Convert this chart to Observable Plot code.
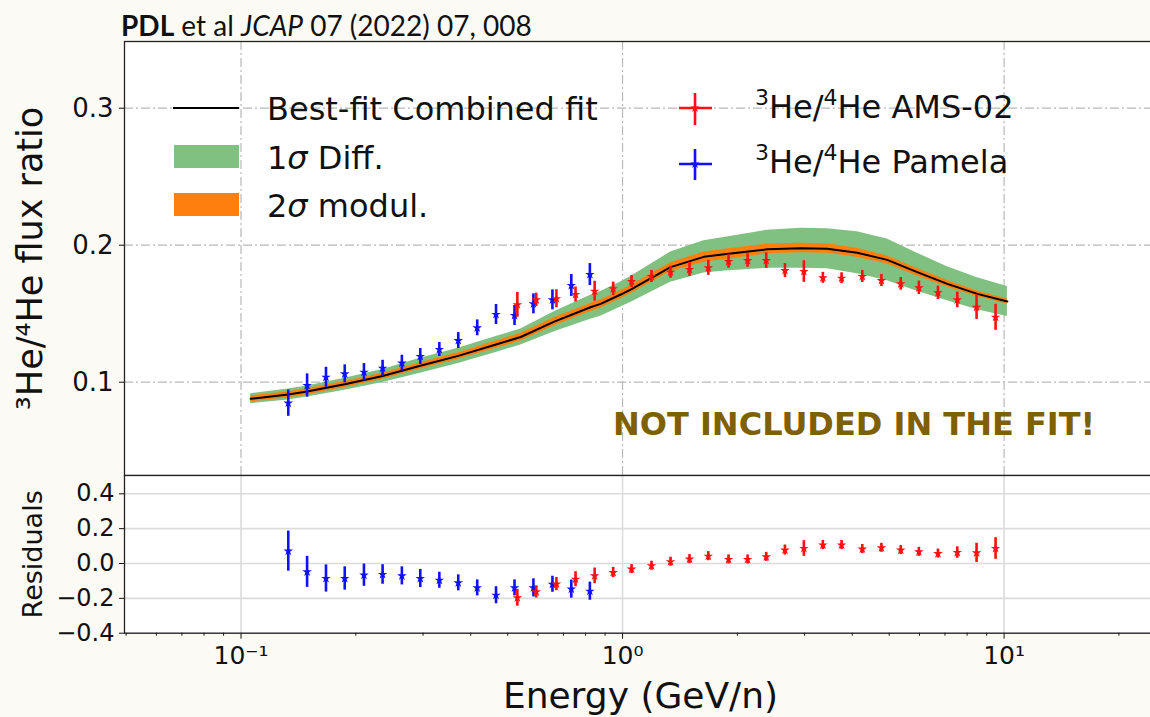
<!DOCTYPE html>
<html>
<head>
<meta charset="utf-8">
<script src="https://cdn.jsdelivr.net/npm/d3@7"></script>
<script src="https://cdn.jsdelivr.net/npm/@observablehq/plot@0.6"></script>
<style>
  html, body { margin: 0; padding: 0; width: 1150px; height: 717px; overflow: hidden; background: #fcfaf4; }
  #wrap { position: relative; width: 1150px; height: 717px; }
  #main, #resid, #overlay { position: absolute; left: 0; }
  #main { top: 0; }
  #resid { top: 475px; }
  #overlay { top: 0; pointer-events: none; }
</style>
</head>
<body>
<div id="wrap">
  <div id="main"></div>
  <div id="resid"></div>
  <svg id="overlay" width="1150" height="717"></svg>
</div>
<script>
// ---- PAMELA 3He/4He (kinetic energy per nucleon, GeV/n) ----
const pamelaE = [0.133, 0.149, 0.167, 0.187, 0.210, 0.235, 0.264, 0.295, 0.331, 0.371, 0.416, 0.466, 0.521, 0.584, 0.655, 0.734, 0.821];
const pamelaRatio = [0.0847, 0.0976, 0.1036, 0.1061, 0.1073, 0.1102, 0.1139, 0.1188, 0.1239, 0.1304, 0.1397, 0.1494, 0.1487, 0.1572, 0.1601, 0.1706, 0.1786];
const pamelaErr = [0.0096, 0.0085, 0.0073, 0.0066, 0.0063, 0.0058, 0.0058, 0.0058, 0.0051, 0.0058, 0.0058, 0.0073, 0.0073, 0.0073, 0.0073, 0.0080, 0.0080];
const pamelaRes = [0.071, -0.048, -0.086, -0.086, -0.067, -0.063, -0.071, -0.086, -0.096, -0.111, -0.140, -0.182, -0.140, -0.140, -0.119, -0.147, -0.159];
const pamelaResErr = [0.115, 0.089, 0.078, 0.067, 0.064, 0.056, 0.052, 0.052, 0.046, 0.046, 0.046, 0.049, 0.046, 0.052, 0.046, 0.052, 0.052];

// ---- AMS-02 3He/4He ----
const amsE = [0.530, 0.594, 0.671, 0.753, 0.845, 0.945, 1.056, 1.191, 1.336, 1.498, 1.678, 1.896, 2.127, 2.380, 2.665, 2.987, 3.35, 3.75, 4.25, 4.77, 5.36, 5.98, 6.71, 7.54, 8.47, 9.50];
const amsRatio = [0.1565, 0.1601, 0.1609, 0.1640, 0.1664, 0.1682, 0.1735, 0.1772, 0.1803, 0.1823, 0.1835, 0.1881, 0.1888, 0.1888, 0.1815, 0.1808, 0.1762, 0.1759, 0.1772, 0.1742, 0.1718, 0.1689, 0.1653, 0.1601, 0.1547, 0.1474];
const amsErr = [0.0091, 0.0049, 0.0066, 0.0055, 0.0073, 0.0049, 0.0044, 0.0044, 0.0044, 0.0051, 0.0055, 0.0049, 0.0049, 0.0057, 0.0051, 0.0079, 0.0040, 0.0040, 0.0044, 0.0044, 0.0046, 0.0049, 0.0049, 0.0057, 0.0089, 0.0095];
const amsRes = [-0.197, -0.163, -0.118, -0.090, -0.071, -0.052, -0.032, -0.013, 0.010, 0.025, 0.042, 0.023, 0.023, 0.038, 0.077, 0.086, 0.106, 0.106, 0.083, 0.090, 0.077, 0.067, 0.057, 0.063, 0.061, 0.086];
const amsResErr = [0.048, 0.035, 0.038, 0.043, 0.045, 0.029, 0.026, 0.026, 0.026, 0.026, 0.026, 0.026, 0.026, 0.026, 0.029, 0.045, 0.026, 0.026, 0.026, 0.026, 0.026, 0.026, 0.026, 0.033, 0.055, 0.062];

// ---- Best-fit combined model and its uncertainty bands ----
const modelE = [0.106, 0.133, 0.149, 0.187, 0.235, 0.295, 0.371, 0.466, 0.541, 0.660, 0.824, 0.876, 0.989, 1.056, 1.336, 1.633, 1.896, 2.394, 2.93, 3.44, 4.12, 4.94, 5.92, 7.10, 8.51, 10.2];
const modelFit = [0.0879, 0.0910, 0.0932, 0.0985, 0.1045, 0.1120, 0.1192, 0.1275, 0.1330, 0.1440, 0.1547, 0.1572, 0.1640, 0.1680, 0.1840, 0.1915, 0.1937, 0.1970, 0.1978, 0.1974, 0.1945, 0.1893, 0.1803, 0.1718, 0.1645, 0.1589];
const diffLow = [0.0843, 0.0870, 0.0892, 0.0941, 0.0998, 0.1065, 0.1137, 0.1217, 0.1272, 0.1367, 0.1459, 0.1481, 0.1549, 0.1585, 0.1730, 0.1798, 0.1813, 0.1831, 0.1832, 0.1828, 0.1792, 0.1740, 0.1664, 0.1594, 0.1528, 0.1479];
const diffHigh = [0.0915, 0.0950, 0.0972, 0.1029, 0.1092, 0.1175, 0.1247, 0.1333, 0.1388, 0.1513, 0.1635, 0.1663, 0.1731, 0.1775, 0.1950, 0.2032, 0.2061, 0.2109, 0.2124, 0.2120, 0.2098, 0.2046, 0.1942, 0.1842, 0.1762, 0.1699];
const modulLow = [0.0856, 0.0887, 0.0909, 0.0962, 0.1021, 0.1096, 0.1167, 0.1247, 0.1300, 0.1410, 0.1517, 0.1542, 0.1610, 0.1650, 0.1808, 0.1875, 0.1900, 0.1937, 0.1945, 0.1942, 0.1912, 0.1862, 0.1775, 0.1694, 0.1624, 0.1570];
const modulHigh = [0.0899, 0.0930, 0.0952, 0.1005, 0.1066, 0.1142, 0.1215, 0.1300, 0.1357, 0.1468, 0.1575, 0.1600, 0.1668, 0.1710, 0.1872, 0.1950, 0.1975, 0.2008, 0.2015, 0.2010, 0.1978, 0.1922, 0.1830, 0.1742, 0.1666, 0.1608];

// ---- Axis ticks ----
const xMajor = [0.1, 1, 10];
const xMajorLabels = ["10⁻¹", "10⁰", "10¹"];
const yMainTicks = [0.1, 0.2, 0.3];
const yResTicks = [-0.4, -0.2, 0.0, 0.2, 0.4];
const xMinor = [];
for (const decade of [0.01, 0.1, 1, 10]) for (let k = 2; k <= 9; k++) xMinor.push(k * decade);

// ---- Tables built from the arrays ----
const pamela = pamelaE.map((E, i) => ({E, v: pamelaRatio[i], e: pamelaErr[i], r: pamelaRes[i], re: pamelaResErr[i]}));
const ams = amsE.map((E, i) => ({E, v: amsRatio[i], e: amsErr[i], r: amsRes[i], re: amsResErr[i]}));
const model = modelE.map((E, i) => ({E, fit: modelFit[i], gLo: diffLow[i], gHi: diffHigh[i], oLo: modulLow[i], oHi: modulHigh[i]}));

const xDomain = [0.0495, 29];
const font = "DejaVu Sans, Verdana, sans-serif";
const ink = "#111";
const svgStyle = {background: "transparent", maxWidth: "none", overflow: "visible", fontFamily: font, color: ink};
const starR = 3;
const green = "#80c080", orange = "#ff7f0e";
const red = "#ff1010", blue = "#1010ff";
const dashGrid = {stroke: "#b8b8b8", strokeOpacity: 1, strokeWidth: 1.2, strokeDasharray: "9,3,2,3"};
const solidGrid = {stroke: "#dcdcdc", strokeOpacity: 1, strokeWidth: 1.6};

// ---- Upper panel: flux ratio ----
const mainPlot = Plot.plot({
  width: 1180, height: 475,
  marginLeft: 124, marginRight: 0, marginTop: 41, marginBottom: 0,
  style: svgStyle,
  x: {type: "log", domain: xDomain, axis: null, label: null},
  y: {domain: [0.0319, 0.3487], label: null},
  marks: [
    Plot.frame({fill: "white"}),
    Plot.gridX(xMajor, dashGrid),
    Plot.gridY(yMainTicks, dashGrid),
    Plot.areaY(model, {x: "E", y1: "gLo", y2: "gHi", fill: green}),
    Plot.areaY(model, {x: "E", y1: "oLo", y2: "oHi", fill: orange}),
    Plot.line(model, {x: "E", y: "fit", stroke: "black", strokeWidth: 2}),
    Plot.ruleX(pamela, {x: "E", y1: d => d.v - d.e, y2: d => d.v + d.e, stroke: blue, strokeWidth: 2.6}),
    Plot.dot(pamela, {x: "E", y: "v", symbol: "star", r: starR, fill: blue}),
    Plot.ruleX(ams, {x: "E", y1: d => d.v - d.e, y2: d => d.v + d.e, stroke: red, strokeWidth: 2.6}),
    Plot.dot(ams, {x: "E", y: "v", symbol: "star", r: starR, fill: red}),
    Plot.axisY(yMainTicks, {tickSize: 5, tickPadding: 6, fontSize: 26, label: null, tickFormat: d => d.toFixed(1), stroke: ink, fill: ink}),
    Plot.text(["³He/⁴He flux ratio"], {frameAnchor: "left", textAnchor: "middle", lineAnchor: "middle", text: d => d, rotate: -90, dx: -94, fontSize: 35, fill: ink}),
    Plot.frame({stroke: "#222", strokeWidth: 1.3})
  ]
});
document.getElementById("main").appendChild(mainPlot);

// ---- Lower panel: residuals ----
const residPlot = Plot.plot({
  width: 1180, height: 242,
  marginLeft: 124, marginRight: 0, marginTop: 0, marginBottom: 84.3,
  style: svgStyle,
  x: {type: "log", domain: xDomain, label: null},
  y: {domain: [-0.4, 0.505], label: null},
  marks: [
    Plot.frame({fill: "white"}),
    Plot.gridY(yResTicks, solidGrid),
    Plot.gridX(xMajor, solidGrid),
    Plot.ruleX(pamela, {x: "E", y1: d => d.r - d.re, y2: d => d.r + d.re, stroke: blue, strokeWidth: 2.6}),
    Plot.dot(pamela, {x: "E", y: "r", symbol: "star", r: starR, fill: blue}),
    Plot.ruleX(ams, {x: "E", y1: d => d.r - d.re, y2: d => d.r + d.re, stroke: red, strokeWidth: 2.6}),
    Plot.dot(ams, {x: "E", y: "r", symbol: "star", r: starR, fill: red}),
    Plot.axisY(yResTicks, {tickSize: 5, tickPadding: 5, fontSize: 24, label: null, tickFormat: d3.format(".1f"), stroke: ink, fill: ink}),
    Plot.axisX(xMinor.filter(v => v > xDomain[0] && v < xDomain[1]), {tickSize: 3, label: null, fill: "none", stroke: ink}),
    Plot.axisX(xMajor, {tickSize: 6, tickPadding: 7, fontSize: 25, label: null, tickFormat: d => xMajorLabels[xMajor.indexOf(d)], stroke: ink, fill: ink}),
    Plot.text(["Residuals"], {frameAnchor: "left", textAnchor: "middle", lineAnchor: "middle", text: d => d, rotate: -90, dx: -91, fontSize: 27, fill: ink}),
    Plot.text(["Energy (GeV/n)"], {frameAnchor: "bottom", textAnchor: "middle", lineAnchor: "middle", text: d => d, dx: -12, dy: 63, fontSize: 36, fill: ink}),
    Plot.frame({stroke: "#222", strokeWidth: 1.3})
  ]
});
document.getElementById("resid").appendChild(residPlot);

// ---- Citation, legend and annotation ----
const star = d3.symbol(d3.symbolStar, 26)();
const sup = (s) => `<tspan font-size="22" dy="-13">${s}</tspan>`;
const heRatio = (rest) => `${sup("3")}<tspan dy="13">He/</tspan>${sup("4")}<tspan dy="13">He ${rest}</tspan>`;
document.getElementById("overlay").innerHTML = `
  <text x="121" y="36" font-family="Lato, 'Open Sans', sans-serif" font-size="28" fill="#111">
    <tspan font-weight="bold">PDL</tspan> et al <tspan font-style="italic">JCAP</tspan> 07 (2022) 07, 008
  </text>
  <g font-family="${font}" font-size="32" fill="${ink}">
    <line x1="173" x2="239" y1="108" y2="108" stroke="black" stroke-width="2"/>
    <text x="267" y="120">Best-fit Combined fit</text>
    <rect x="174" y="145" width="65" height="23" fill="${green}"/>
    <text x="267" y="169">1<tspan font-style="italic">σ</tspan> Diff.</text>
    <rect x="174" y="193" width="65" height="23" fill="${orange}"/>
    <text x="267" y="217">2<tspan font-style="italic">σ</tspan> modul.</text>
    <g stroke="${red}" stroke-width="2.6">
      <line x1="679" x2="712" y1="108" y2="108"/><line x1="695" x2="695" y1="93" y2="125"/>
    </g>
    <path d="${star}" transform="translate(695,108)" fill="${red}"/>
    <text x="755" y="118">${heRatio("AMS-02")}</text>
    <g stroke="${blue}" stroke-width="2.6">
      <line x1="679" x2="712" y1="164" y2="164"/><line x1="695" x2="695" y1="149" y2="180"/>
    </g>
    <path d="${star}" transform="translate(695,164)" fill="${blue}"/>
    <text x="755" y="173">${heRatio("Pamela")}</text>
  </g>
  <text x="613" y="435" font-family="${font}" font-weight="bold" font-size="32" fill="#7f6000">NOT INCLUDED IN THE FIT!</text>
`;
</script>
</body>
</html>
